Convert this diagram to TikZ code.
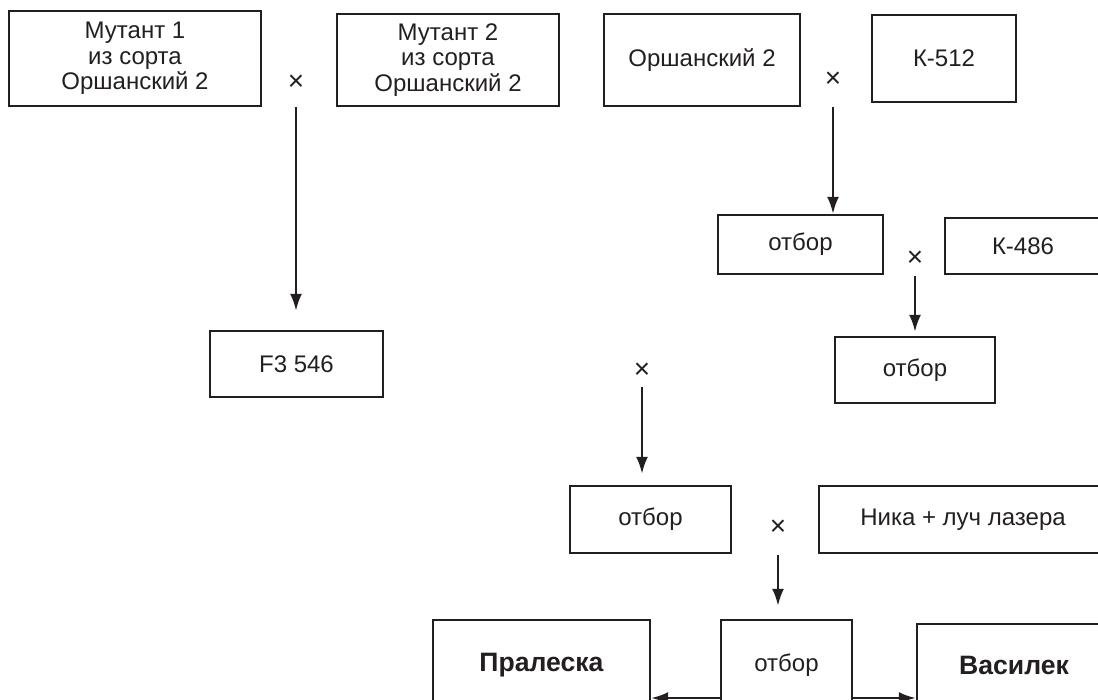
\documentclass[tikz,border=0pt]{standalone}
\usepackage{fontspec}
\setmainfont{Liberation Sans}
\usetikzlibrary{arrows.meta}
\definecolor{ink}{RGB}{35,31,32}
\tikzstyle{box}=[draw=ink, line width=1.2pt, rectangle, align=center, text=ink, font=\fontsize{12}{12.8}\selectfont]
\tikzstyle{variety}=[font=\fontsize{13.3}{16}\selectfont\bfseries]
\tikzstyle{cross}=[inner sep=0pt, text=ink, font=\fontsize{14}{16}\selectfont]
\tikzstyle{flow}=[draw=ink, line width=1.2pt, -{Latex[length=8.5pt,width=6pt]}]

\begin{document}
\begin{tikzpicture}[x=0.5pt,y=-0.5pt]
  \useasboundingbox (0,0) rectangle (1098,700);
  \clip (0,0) rectangle (1098,700);

  %% Parents
  \draw (135,58.5) node[box, minimum width=126pt, minimum height=47.5pt] (m1) {Мутант 1\\из сорта\\Оршанский 2};
  \draw (448,60) node[box, minimum width=111pt, minimum height=46pt] (m2) {Мутант 2\\из сорта\\Оршанский 2};
  \draw (702,60) node[box, minimum width=98pt, minimum height=46pt] (or2) {Оршанский 2};
  \draw (944,58.5) node[box, minimum width=72pt, minimum height=43.5pt] (k512) {К-512};

  \draw (296,83) node[cross] (x1) {×};
  \draw (833,80) node[cross] (x2) {×};

  \draw (296.5,364) node[box, minimum width=86.5pt, minimum height=33pt] (f3) {F3 546};

  \draw (800.5,244.5) node[box, minimum width=82.5pt, minimum height=29.5pt] (o1) {отбор};
  \draw (1023,246) node[box, minimum width=78pt, minimum height=28pt] (k486) {К-486};
  \draw (915,259) node[cross] (x3) {×};

  \draw (915,370) node[box, minimum width=80pt, minimum height=33pt] (o2) {отбор};
  \draw (642,371) node[cross] (x4) {×};

  \draw (650.5,519.5) node[box, minimum width=80.5pt, minimum height=33.5pt] (o3) {отбор};
  \draw (963,519.5) node[box, minimum width=144pt, minimum height=33.5pt] (nika) {Ника + луч лазера};
  \draw (778,528) node[cross] (x5) {×};

  %% Varieties
  \draw (541.5,665) node[box, variety, minimum width=108.5pt, minimum height=45pt] (pr) {Пралеска};
  \draw (786.5,665) node[box, minimum width=65.5pt, minimum height=45pt] (o4) {отбор};
  \draw (1014,665) node[box, variety, minimum width=97pt, minimum height=41pt] (vas) {Василек};

  %% Crossings and selections
  \draw[flow, shorten <=12pt, shorten >=9.5pt] (x1.center) -- (x1 |- f3.north);
  \draw[flow, shorten <=13.5pt] (x2.center) -- (x2 |- o1.north);
  \draw[flow, shorten <=8.5pt, shorten >=2pt] (x3.center) -- (o2.north);
  \draw[flow, shorten <=8pt, shorten >=5.5pt] (x4.center) -- (x4 |- o3.north);
  \draw[flow, shorten <=13.5pt, shorten >=6.5pt] (x5.center) -- (x5 |- o4.north);

  \coordinate (base) at (0,698);
  \draw[flow] (o4.west |- base) -- (pr.east |- base);
  \draw[flow] (o4.east |- base) -- (vas.west |- base);
\end{tikzpicture}
\end{document}
